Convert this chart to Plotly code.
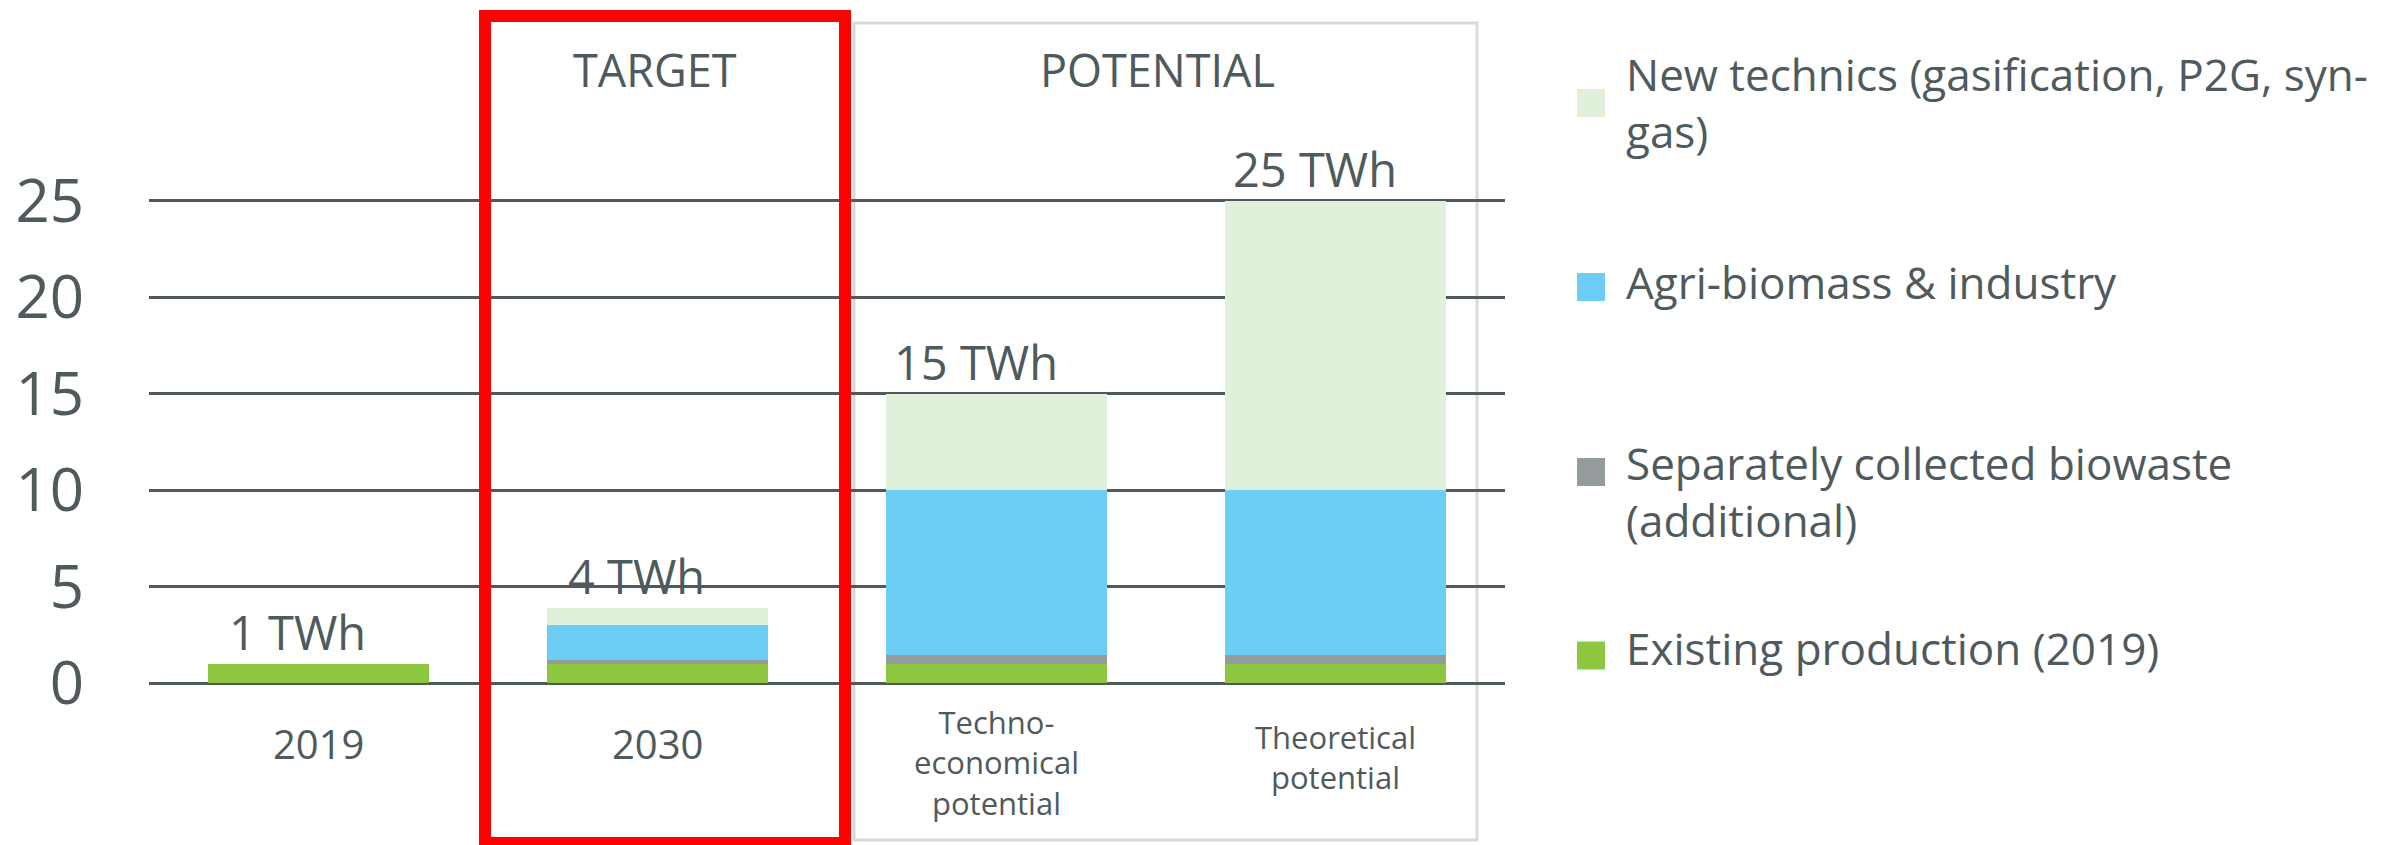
import plotly.graph_objects as go

# ---------------- data ----------------
categories = ["2019", "2030", "Techno-economical potential", "Theoretical potential"]
category_labels = ["2019", "2030", "Techno-<br>economical<br>potential", "Theoretical<br>potential"]

series_names = [
    "Existing production (2019)",
    "Separately collected biowaste (additional)",
    "Agri-biomass & industry",
    "New technics (gasification, P2G, syn-gas)",
]
legend_labels = [
    "Existing production (2019)",
    "Separately collected biowaste<br>(additional)",
    "Agri-biomass & industry",
    "New technics (gasification, P2G, syn-<br>gas)",
]
existing = [1.0, 1.0, 1.0, 1.0]
biowaste = [0.0, 0.2, 0.45, 0.45]
agri = [0.0, 1.8, 8.55, 8.55]
new_tech = [0.0, 0.9, 5.0, 15.0]

total_labels = ["1 TWh", "4 TWh", "15 TWh", "25 TWh"]
group_headers = ["TARGET", "POTENTIAL"]
y_tick_values = [0, 5, 10, 15, 20, 25]

# ---------------- style ----------------
colors = ["#8DC63F", "#959B9C", "#6DCEF5", "#DFF0DB"]
text_color = "#4F5A5C"
font_family = "Open Sans, Noto Sans, DejaVu Sans, sans-serif"

W, H = 2402, 845
OFF = 8                              # page (body) margin of the html page
L, R, T, B = 149, 1505, 162, 693     # plot area in page pixels
PW, PH = R - L, B - T


def px(xpage):
    return (xpage - L) / PW


def py(ypage):
    return (B - ypage) / PH


fig = go.Figure()
for name, vals, col in zip(series_names, [existing, biowaste, agri, new_tech], colors):
    fig.add_trace(go.Bar(
        x=categories, y=vals, name=name,
        marker=dict(color=col, line=dict(width=0)),
        showlegend=False,
    ))

totals = [a + b + c + d for a, b, c, d in zip(existing, biowaste, agri, new_tech)]

annotations = []
# value labels above stacks (x given as category index)
for i, (tot, lab) in enumerate(zip(totals, total_labels)):
    annotations.append(dict(
        x=i, y=tot, xref="x", yref="y", text=lab, showarrow=False,
        xanchor="center", yanchor="bottom", xshift=-21, yshift=-2,
        font=dict(size=47, color=text_color, family=font_family),
    ))

# category labels
cat_label_centers = [743, 743, 762, 757]
for i, (lab, yc) in enumerate(zip(category_labels, cat_label_centers)):
    multi = "<br>" in lab
    annotations.append(dict(
        x=i, y=py(yc), xref="x", yref="paper", text=lab,
        showarrow=False, xanchor="center", yanchor="middle", align="center",
        font=dict(size=31 if multi else 40, color=text_color, family=font_family),
    ))

# group headers
for hdr, xc in zip(group_headers, [655, 1157]):
    annotations.append(dict(
        x=px(xc), y=py(70), xref="paper", yref="paper", text=hdr, showarrow=False,
        xanchor="center", yanchor="middle",
        font=dict(size=45, color=text_color, family=font_family),
    ))

shapes = []
# red TARGET box
shapes.append(dict(
    type="rect", xref="paper", yref="paper",
    x0=px(485), x1=px(845), y0=py(843), y1=py(16),
    line=dict(color="#FF0000", width=12), fillcolor="rgba(0,0,0,0)", layer="above",
))
# grey POTENTIAL box
shapes.append(dict(
    type="rect", xref="paper", yref="paper",
    x0=px(854), x1=px(1477), y0=py(840), y1=py(23),
    line=dict(color="#D9D9D9", width=3), fillcolor="rgba(0,0,0,0)", layer="below",
))

# manual legend (same order as series: bottom to top on the page)
legend_square_centers = [655.5, 472, 287, 103]
legend_text_centers = [648, 491, 281.5, 103]
for lab, col, yc, ty in zip(legend_labels, colors, legend_square_centers, legend_text_centers):
    shapes.append(dict(
        type="rect", xref="paper", yref="paper",
        x0=px(1577), x1=px(1605), y0=py(yc + 14), y1=py(yc - 14),
        line=dict(width=0), fillcolor=col, layer="above",
    ))
    annotations.append(dict(
        x=px(1624), y=py(ty), xref="paper", yref="paper", text=lab, showarrow=False,
        xanchor="left", yanchor="middle", align="left",
        font=dict(size=44, color=text_color, family=font_family),
    ))

fig.update_layout(
    width=W, height=H,
    barmode="stack", bargap=0.351,
    paper_bgcolor="white", plot_bgcolor="white",
    margin=dict(l=L - OFF, r=W - (R - OFF), t=T - OFF, b=H - (B - OFF), autoexpand=False),
    font=dict(family=font_family, color=text_color),
    showlegend=False,
    annotations=annotations,
    shapes=shapes,
)
fig.update_xaxes(type="category", categoryorder="array", categoryarray=categories,
                 range=[-0.5, len(categories) - 0.5],
                 showticklabels=False, showgrid=False, showline=False, zeroline=False, ticks="")
fig.update_yaxes(
    range=[-0.5, 27], tickvals=y_tick_values, showgrid=True, gridcolor="#505A5C",
    gridwidth=2.5, zeroline=False, showline=False, ticks="",
    tickfont=dict(size=60, color=text_color, family=font_family),
    ticklabelstandoff=64,
)

fig.write_html("out.html")
